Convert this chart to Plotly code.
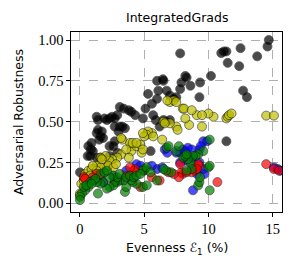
import plotly.graph_objects as go

# --- data ---
black_x = [7.8, 11.0, 11.2, 11.4, 11.5, 12.5, 12.4, 13.8, 14.7, 14.6, 10.2, 12.7, 13.0, 11.4,
           9.35, 9.3, 8.2, 8.3, 7.9, 8.6, 7.8, 7.5, 6.5, 6.45, 6.0, 6.1, 6.0, 6.75, 7.0, 7.3,
           5.3, 5.6, 5.1, 5.7, 5.9, 6.5, 6.7, 7.0, 6.2, 4.9, 4.3, 3.8, 4.0, 3.1, 3.4, 2.9,
           2.3, 2.5, 2.7, 2.1, 1.9, 1.3, 1.4, 3.1, 3.3, 3.5, 2.7, 1.6, 1.7, 1.3, 1.4, 1.8,
           1.5, 0.85, 0.9, 0.65, 0.6, 0.8, 1.0, 1.3, 1.6, 0.0, 2.3, 2.6, 2.7, 2.9, 5.5, 2.3, 3.0]
black_y = [0.918, 0.92, 0.93, 0.93, 0.86, 0.95, 0.84, 0.90, 1.00, 0.96, 0.78, 0.69, 0.65, 0.38,
           0.74, 0.65, 0.78, 0.77, 0.74, 0.72, 0.70, 0.65, 0.75, 0.76, 0.75, 0.69, 0.64, 0.69, 0.66, 0.64,
           0.67, 0.61, 0.58, 0.54, 0.51, 0.51, 0.50, 0.51, 0.47, 0.52, 0.54, 0.57, 0.56, 0.59, 0.58, 0.54,
           0.52, 0.53, 0.52, 0.51, 0.52, 0.53, 0.51, 0.47, 0.47, 0.46, 0.47, 0.41, 0.44, 0.43, 0.45, 0.40,
           0.39, 0.33, 0.37, 0.35, 0.29, 0.29, 0.32, 0.28, 0.28, 0.19, 0.35, 0.35, 0.38, 0.31, 0.32, 0.29, 0.44]

yellow_x = [14.5, 15.1, 11.4, 11.5, 11.6, 11.8, 10.4, 10.0, 9.1, 9.5, 9.5, 8.5, 8.0, 8.1, 8.7,
            8.2, 7.5, 7.6, 7.0, 7.0, 7.3, 7.5, 6.5, 6.6, 6.4, 5.6, 5.3, 5.2, 5.0, 4.9, 5.7,
            3.3, 3.2, 4.0, 4.0, 4.4, 4.7, 4.8, 4.9, 3.8, 3.2, 2.9, 2.5, 2.3, 2.0, 1.6, 1.8,
            1.3, 1.2, 0.4, 0.65, 0.9, 0.5, 0.1, 0.0, 2.1, 2.2, 2.6, 1.6, 1.3, 1.7, 0.0, 3.9,
            4.1, 4.4, 0.3, 0.8, 1.0, 6.8, 3.6, 2.8]
yellow_y = [0.537, 0.537, 0.52, 0.53, 0.54, 0.55, 0.53, 0.55, 0.54, 0.54, 0.47, 0.48, 0.58, 0.58, 0.57,
            0.52, 0.47, 0.45, 0.49, 0.62, 0.63, 0.62, 0.50, 0.49, 0.39, 0.43, 0.44, 0.42, 0.41, 0.43, 0.41,
            0.39, 0.40, 0.35, 0.32, 0.35, 0.36, 0.31, 0.33, 0.28, 0.30, 0.28, 0.27, 0.26, 0.29, 0.28, 0.22,
            0.23, 0.21, 0.18, 0.20, 0.21, 0.16, 0.12, 0.06, 0.22, 0.23, 0.22, 0.22, 0.20, 0.27, 0.05, 0.37,
            0.37, 0.37, 0.14, 0.17, 0.23, 0.63, 0.33, 0.24]

blue_x = [15.1, 15.4, 15.6, 9.6, 9.9, 9.3, 9.4, 8.0, 8.2, 8.4, 8.7, 7.5, 7.8, 6.6, 6.8, 8.8,
          8.7, 8.8, 9.7, 9.3, 9.6, 7.8, 8.3, 6.0, 6.4, 4.4, 4.7, 3.6, 2.6, 2.9, 1.8, 5.6, 8.8, 9.1]
blue_y = [0.22, 0.21, 0.20, 0.38, 0.38, 0.33, 0.35, 0.33, 0.32, 0.34, 0.33, 0.31, 0.31, 0.33, 0.31, 0.27,
          0.28, 0.08, 0.18, 0.25, 0.21, 0.25, 0.26, 0.21, 0.22, 0.24, 0.23, 0.20, 0.16, 0.14, 0.13, 0.23, 0.21, 0.18]

red_x = [14.5, 15.1, 15.5, 10.7, 9.3, 9.2, 9.0, 9.1, 8.7, 8.0, 7.9, 8.3, 7.7, 7.3, 6.9, 6.2,
         5.6, 4.1, 4.3, 4.2, 3.6, 3.8, 1.6, 1.3, 1.0, 0.3, 0.4, 7.8, 4.7, 2.7, 3.9, 5.0]
red_y = [0.24, 0.21, 0.20, 0.13, 0.23, 0.24, 0.20, 0.21, 0.19, 0.18, 0.19, 0.19, 0.16, 0.18, 0.19, 0.14,
         0.16, 0.18, 0.21, 0.20, 0.17, 0.16, 0.17, 0.18, 0.16, 0.16, 0.15, 0.24, 0.10, 0.13, 0.22, 0.20]

green_x = [10.1, 10.1, 10.0, 10.1, 9.2, 9.3, 9.35, 9.6, 9.2, 9.0, 8.8, 8.6, 8.4, 8.05, 8.2, 8.3,
           7.5, 7.7, 6.75, 6.9, 8.7, 8.3, 7.1, 6.7, 6.5, 6.0, 5.0, 4.9, 5.2, 5.5, 4.9, 5.2,
           4.4, 4.1, 4.0, 3.5, 3.6, 3.4, 3.1, 2.9, 2.7, 2.6, 2.3, 2.1, 1.8, 1.6, 1.3, 1.4,
           1.0, 0.8, 0.65, 0.4, 0.15, 0.0, 0.0, 2.9, 2.6, 3.1, 2.3, 1.6, 1.9, 2.1, 3.6, 3.9,
           4.2, 4.4, 4.7, 0.3, 0.5, 1.2, 0.9]
green_y = [0.39, 0.08, 0.22, 0.23, 0.11, 0.13, 0.16, 0.32, 0.30, 0.29, 0.29, 0.25, 0.27, 0.28, 0.29, 0.30,
           0.32, 0.35, 0.34, 0.35, 0.21, 0.20, 0.19, 0.20, 0.21, 0.14, 0.21, 0.20, 0.22, 0.19, 0.10, 0.11,
           0.12, 0.13, 0.14, 0.07, 0.10, 0.14, 0.14, 0.13, 0.13, 0.11, 0.10, 0.09, 0.13, 0.12, 0.13, 0.06,
           0.14, 0.13, 0.10, 0.08, 0.06, 0.04, 0.02, 0.16, 0.17, 0.18, 0.16, 0.18, 0.19, 0.20, 0.16, 0.17,
           0.16, 0.17, 0.18, 0.10, 0.11, 0.15, 0.12]

series = [
    ("black", black_x, black_y, "#000000"),
    ("yellow", yellow_x, yellow_y, "#bfbf00"),
    ("blue", blue_x, blue_y, "#0000ff"),
    ("red", red_x, red_y, "#ff0000"),
    ("green", green_x, green_y, "#008000"),
]

x_ticks = [0, 5, 10, 15]
y_ticks = [0.0, 0.25, 0.5, 0.75, 1.0]
y_tick_labels = ["0.00", "0.25", "0.50", "0.75", "1.00"]

fig = go.Figure()
for name, xs, ys, col in series:
    fig.add_trace(go.Scatter(
        x=xs, y=ys, mode="markers", name=name, showlegend=False,
        marker=dict(size=9, color=col, opacity=0.7,
                    line=dict(color="#111111", width=0.8)),
    ))

tick_font = dict(family="Liberation Serif, DejaVu Serif, serif", size=14.5, color="#000")
axis_common = dict(
    showline=True, linecolor="#000", linewidth=1.2, mirror=True,
    ticks="outside", ticklen=3.5, tickwidth=0.8, tickcolor="#000",
    showgrid=True, gridcolor="#b0b0b0", griddash="dash", gridwidth=0.8,
    zeroline=False, tickfont=tick_font, automargin=False,
)

label_font = dict(family="DejaVu Sans, sans-serif", size=12.5, color="#000")

fig.update_layout(
    width=299, height=271,
    margin=dict(l=71, r=17, t=32, b=59, autoexpand=False),
    paper_bgcolor="white", plot_bgcolor="white",
    xaxis=dict(range=[-0.7, 15.73], tickvals=x_ticks, ticktext=[str(t) for t in x_ticks],
               **axis_common),
    yaxis=dict(range=[-0.053, 1.049], tickvals=y_ticks, ticktext=y_tick_labels,
               **axis_common),
    annotations=[
        dict(text="IntegratedGrads", xref="paper", yref="paper", x=0.502, y=1.083,
             xanchor="center", yanchor="middle", showarrow=False, font=label_font),
        dict(text="Evenness ℰ<sub>1</sub> (%)", xref="paper", yref="paper", x=0.502, y=-0.2,
             xanchor="center", yanchor="middle", showarrow=False, font=label_font),
        dict(text="Adversarial Robustness", xref="paper", yref="paper", x=-0.251, y=0.5,
             xanchor="center", yanchor="middle", showarrow=False, textangle=-90, font=label_font),
    ],
)

fig.write_html("out.html", config={"displayModeBar": False},
               post_script="document.body.style.margin='0';document.body.style.padding='0';")
